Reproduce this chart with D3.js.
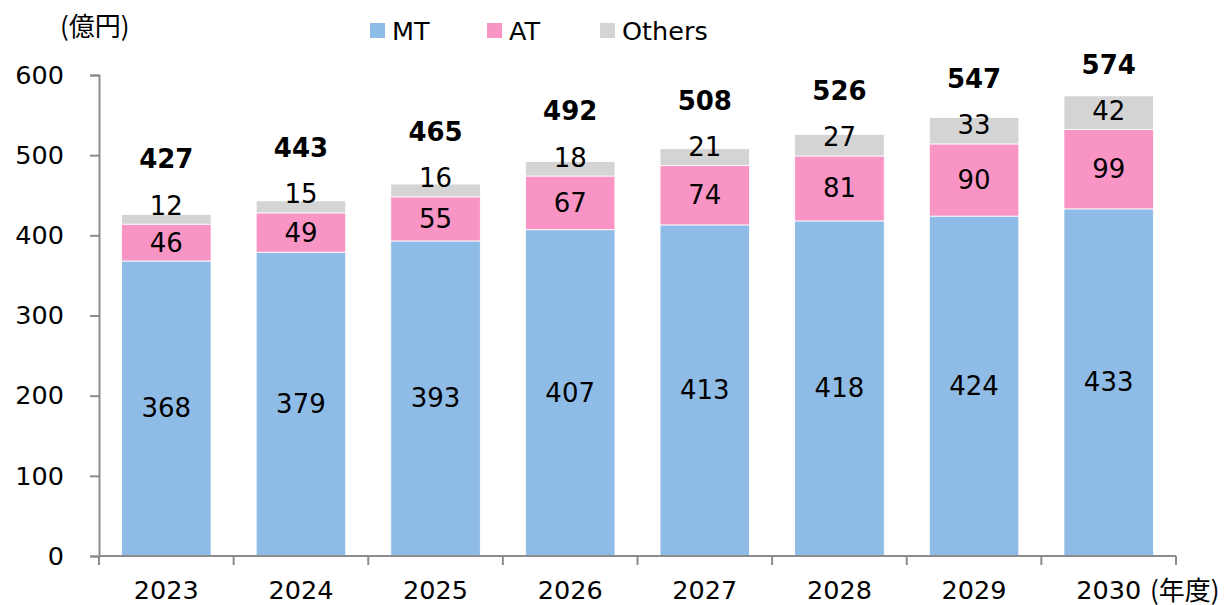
<!DOCTYPE html>
<html>
<head>
<meta charset="utf-8">
<script src="https://cdn.jsdelivr.net/npm/d3@7"></script>
<style>
  body { margin: 0; background: #fff; }
  svg text { font-family: "DejaVu Sans", Verdana, sans-serif; fill: #000; }
</style>
</head>
<body>
<svg id="canvas"></svg>
<script>
// Data
var years = ['2023', '2024', '2025', '2026', '2027', '2028', '2029', '2030'];
var mtValues = [368, 379, 393, 407, 413, 418, 424, 433];
var atValues = [46, 49, 55, 67, 74, 81, 90, 99];
var otherValues = [12, 15, 16, 18, 21, 27, 33, 42];
var totals = [427, 443, 465, 492, 508, 526, 547, 574];
var yTicks = [0, 100, 200, 300, 400, 500, 600];
var seriesNames = ['MT', 'AT', 'Others'];

// Canvas size
var canvasWidth = 1227;
var canvasHeight = 605;

var margin = {
  top: 75,
  right: 51,
  bottom: 49,
  left: 99
};

var colors = ['#8fbce6', '#f995c5', '#d4d4d4'];
var axisColor = '#8c8c8c';

var svg = d3.select('#canvas')
  .attr('width', canvasWidth)
  .attr('height', canvasHeight);

// Scales
var xScale = d3.scaleBand()
  .domain(years)
  .range([margin.left, canvasWidth - margin.right])
  .paddingInner(0.335)
  .paddingOuter(0.1675);

var yScale = d3.scaleLinear()
  .domain([0, 600])
  .range([canvasHeight - margin.bottom, margin.top]);

// Stack the series
var rows = years.map(function(y, i) {
  return { year: y, MT: mtValues[i], AT: atValues[i], Others: otherValues[i], total: totals[i] };
});

var stack = d3.stack().keys(seriesNames);
var layers = stack(rows);

// Bars
var layerGroups = svg.append('g')
  .classed('bars', true)
  .selectAll('g')
  .data(layers)
  .enter()
  .append('g')
  .attr('fill', function(d, i) {
    return colors[i];
  });

layerGroups.selectAll('rect')
  .data(function(d) { return d; })
  .enter()
  .append('rect')
  .attr('x', function(d) { return xScale(d.data.year); })
  .attr('width', xScale.bandwidth())
  .attr('y', function(d) { return yScale(d[1]); })
  .attr('height', function(d) { return yScale(d[0]) - yScale(d[1]); })
  .attr('stroke', '#ffffff')
  .attr('stroke-width', 0.8);

// Segment labels: MT and AT centered, Others at inside base
layerGroups.each(function(layer, li) {
  d3.select(this).selectAll('text')
    .data(layer)
    .enter()
    .append('text')
    .attr('x', function(d) { return xScale(d.data.year) + xScale.bandwidth() / 2; })
    .attr('y', function(d) {
      if (li === 2) {
        return yScale(d[0]) - 18.5;
      }
      return (yScale(d[0]) + yScale(d[1])) / 2;
    })
    .attr('text-anchor', 'middle')
    .attr('dominant-baseline', 'central')
    .style('font-size', '26px')
    .text(function(d) { return d.data[layer.key]; });
});

// Totals
svg.append('g')
  .classed('totals', true)
  .selectAll('text')
  .data(rows)
  .enter()
  .append('text')
  .attr('x', function(d) { return xScale(d.year) + xScale.bandwidth() / 2; })
  .attr('y', function(d) { return yScale(d.MT + d.AT) - 65; })
  .attr('text-anchor', 'middle')
  .attr('dominant-baseline', 'central')
  .style('font-size', '26px')
  .style('font-weight', 'bold')
  .text(function(d) { return d.total; });

// Axes
var yAxis = d3.axisLeft(yScale)
  .tickValues(yTicks)
  .tickSize(9)
  .tickPadding(26);

var yAxisGroup = svg.append('g')
  .attr('class', 'y-axis')
  .attr('transform', 'translate(' + margin.left + ',0)')
  .call(yAxis);

yAxisGroup.select('.domain').attr('stroke', axisColor).attr('stroke-width', 2);
yAxisGroup.selectAll('line').attr('stroke', axisColor).attr('stroke-width', 2);
yAxisGroup.selectAll('text')
  .style('font-size', '25.5px')
  .attr('fill', '#000');

// X axis: ticks at category boundaries
var step = xScale.step();
var boundaries = d3.range(years.length + 1).map(function(i) {
  return margin.left + i * step;
});

var xAxisGroup = svg.append('g')
  .attr('class', 'x-axis');

xAxisGroup.append('line')
  .attr('x1', boundaries[0])
  .attr('x2', boundaries[boundaries.length - 1])
  .attr('y1', yScale(0))
  .attr('y2', yScale(0))
  .attr('stroke', axisColor)
  .attr('stroke-width', 2);

xAxisGroup.selectAll('.tick-mark')
  .data(boundaries)
  .enter()
  .append('line')
  .attr('class', 'tick-mark')
  .attr('x1', function(d) { return d; })
  .attr('x2', function(d) { return d; })
  .attr('y1', yScale(0))
  .attr('y2', yScale(0) + 9)
  .attr('stroke', axisColor)
  .attr('stroke-width', 2);

xAxisGroup.selectAll('.tick-label')
  .data(years)
  .enter()
  .append('text')
  .attr('class', 'tick-label')
  .attr('x', function(d) { return xScale(d) + xScale.bandwidth() / 2; })
  .attr('y', 590)
  .attr('text-anchor', 'middle')
  .attr('dominant-baseline', 'central')
  .style('font-size', '25.5px')
  .text(function(d) { return d; });

// Unit labels
svg.append('text')
  .attr('x', 60)
  .attr('y', 24)
  .attr('dominant-baseline', 'central')
  .style('font-size', '26px')
  .style('font-family', '"Noto Sans CJK JP", sans-serif')
  .text('(億円)');

svg.append('text')
  .attr('x', 1150)
  .attr('y', 588)
  .attr('dominant-baseline', 'central')
  .style('font-size', '26px')
  .style('font-family', '"Noto Sans CJK JP", sans-serif')
  .text('(年度)');

// Legend
var legendX = [370, 487, 600];
var legend = svg.append('g')
  .attr('class', 'legend')
  .selectAll('g')
  .data(seriesNames)
  .enter()
  .append('g')
  .attr('transform', function(d, i) {
    return 'translate(' + legendX[i] + ',23)';
  });

legend.append('rect')
  .attr('width', 15)
  .attr('height', 15)
  .attr('fill', function(d, i) { return colors[i]; });

legend.append('text')
  .attr('x', 22)
  .attr('y', 8)
  .attr('dominant-baseline', 'central')
  .style('font-size', '25.5px')
  .text(function(d) { return d; });
</script>
</body>
</html>
